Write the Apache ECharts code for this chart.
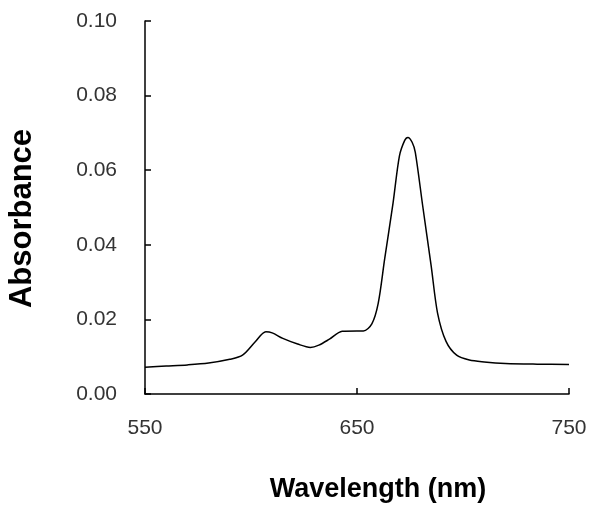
<!DOCTYPE html>
<html>
<head>
<meta charset="utf-8">
<script src="https://cdn.jsdelivr.net/npm/echarts@6/dist/echarts.min.js"></script>
<style>
  html, body { margin: 0; padding: 0; background: #fff; }
  #chart { width: 601px; height: 511px; }
</style>
</head>
<body>
<div id="chart"></div>
<script>
// spectrum
const wavelengths = [550, 560, 570, 580, 590, 596, 602, 607, 610, 615, 622, 628, 632, 637, 643, 650, 653, 657, 660, 663, 667, 670, 672.5, 674, 676, 677.5, 681, 685, 688, 692, 697, 703, 710, 720, 735, 750];
const absorbance = [0.0072, 0.0075, 0.0078, 0.0083, 0.0093, 0.0104, 0.0140, 0.0167, 0.0164, 0.0149, 0.0134, 0.0125, 0.0131, 0.0147, 0.0168, 0.0169, 0.0169, 0.0188, 0.0243, 0.0360, 0.0512, 0.0638, 0.0680, 0.0688, 0.0675, 0.0648, 0.0504, 0.0343, 0.0217, 0.0141, 0.0104, 0.0091, 0.0086, 0.0082, 0.0080, 0.0079];

const points = wavelengths.map((w, i) => [w, absorbance[i]]);

const myChart = echarts.init(document.getElementById('chart'));
myChart.setOption({
  animation: false,
  backgroundColor: '#fff',
  grid: { left: 145, right: 32, top: 21, bottom: 117, outerBoundsMode: 'none' },
  xAxis: {
    type: 'value',
    min: 550,
    max: 750,
    interval: 100,
    name: 'Wavelength (nm)',
    nameLocation: 'middle',
    nameGap: 82,
    nameTextStyle: { fontFamily: 'Liberation Sans', fontWeight: 'bold', fontSize: 27, color: '#000', padding: [0, 0, 0, 42] },
    axisLine: { lineStyle: { color: '#000', width: 1.5 } },
    axisTick: { inside: true, length: 6, lineStyle: { color: '#000', width: 1.5 } },
    axisLabel: { margin: 24, fontFamily: 'Liberation Sans', fontSize: 21, color: '#333' },
    splitLine: { show: false }
  },
  yAxis: {
    type: 'value',
    min: 0,
    max: 0.1,
    interval: 0.02,
    name: 'Absorbance',
    nameLocation: 'middle',
    nameGap: 107,
    nameTextStyle: { fontFamily: 'Liberation Sans', fontWeight: 'bold', fontSize: 31, color: '#000', padding: [0, 22, 0, 0] },
    axisLine: { show: true, lineStyle: { color: '#000', width: 1.5 } },
    axisTick: { show: true, inside: true, length: 6, lineStyle: { color: '#000', width: 1.5 } },
    axisLabel: { margin: 28, fontFamily: 'Liberation Sans', fontSize: 21, color: '#333', formatter: v => v.toFixed(2) },
    splitLine: { show: false }
  },
  series: [{
    type: 'line',
    data: points,
    smooth: 0.3,
    symbol: 'none',
    lineStyle: { color: '#000', width: 1.5 }
  }]
});
</script>
</body>
</html>
